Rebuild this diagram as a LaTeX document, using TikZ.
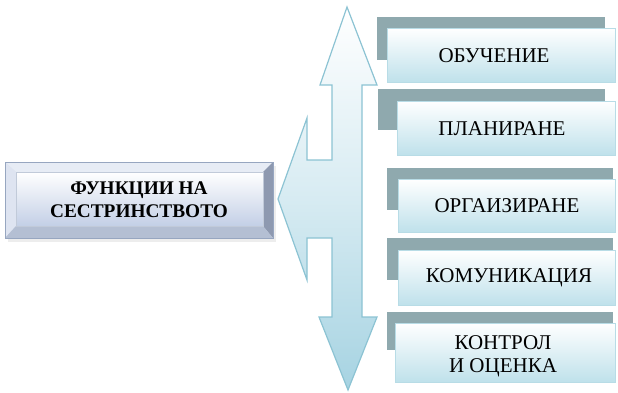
\documentclass[tikz,border=0pt]{standalone}
\usepackage{fontspec}
\setmainfont{Liberation Serif}
\definecolor{arrowline}{HTML}{8CC3D3}
\definecolor{arrowfill}{HTML}{A6D3E2}
\definecolor{shadowc}{HTML}{8FA9AE}
\definecolor{boxline}{HTML}{B8DCE6}
\definecolor{boxbot}{HTML}{BFE1EB}
\definecolor{facebot}{HTML}{C3CFE6}
\definecolor{bevline}{HTML}{97A6C0}
\definecolor{bevright}{HTML}{8E99B0}
\definecolor{bevbottom}{HTML}{B4BFD3}
\begin{document}
\begin{tikzpicture}[x=1pt,y=-1pt,
  backshadow/.style={fill=shadowc,draw=none},
  frontbox/.style={draw=boxline,line width=0.8pt,top color=white,bottom color=boxbot},
  label/.style={font=\fontsize{21}{23}\selectfont,align=center,inner sep=0pt},
  mainlabel/.style={font=\fontsize{19.3}{23}\selectfont\bfseries,align=center,inner sep=0pt}]
\useasboundingbox (0,0) rectangle (618,392);
% three-headed arrow
\draw[arrowline,line width=1.2pt,line join=miter,top color=white,bottom color=arrowfill,middle color=arrowfill!45]
  (347,7) -- (377,85) -- (362,85) -- (362,317) -- (377,317) -- (348,390) -- (319,317) -- (332,317)
  -- (332,238) -- (307,238) -- (307,280) -- (278,199) -- (307,118) -- (307,160) -- (332,160)
  -- (332,85) -- (320,85) -- cycle;
\node[inner sep=0pt] (arrowtip) at (278,199) {};
% left beveled box
\fill[black!7] (8,166) rectangle (276,242);
\draw[bevline,line width=0.8pt,fill=facebot!70] (5,162) rectangle (273,238);
\fill[white!60!facebot] (5,162) -- (273,162) -- (263,172) -- (16,172) -- cycle;
\fill[white!45!facebot] (5,162) -- (16,172) -- (16,226) -- (5,238) -- cycle;
\fill[bevright] (273,162) -- (273,238) -- (263,226) -- (263,172) -- cycle;
\fill[bevbottom] (5,238) -- (16,226) -- (263,226) -- (273,238) -- cycle;
\draw[bevline,line width=0.8pt] (5,162) rectangle (273,238);
\shade[top color=white,bottom color=facebot] (16,172) rectangle (263,226);
\draw[bevline!60,line width=0.5pt] (16,172) rectangle (263,226);
\node[mainlabel] (main) at (139,200) {ФУНКЦИИ НА\\СЕСТРИНСТВОТО};
% right boxes
\fill[backshadow] (377,17) rectangle (605,60);
\draw[frontbox] (387,28) rectangle (615,82);
\node[label] (b1) at (494,56) {ОБУЧЕНИЕ};
\fill[backshadow] (378,89) rectangle (605,130);
\draw[frontbox] (397,101) rectangle (615,155);
\node[label] (b2) at (502,129) {ПЛАНИРАНЕ};
\fill[backshadow] (387,168) rectangle (613,210);
\draw[frontbox] (398,179) rectangle (615,232);
\node[label] (b3) at (507,206) {ОРГАИЗИРАНЕ};
\fill[backshadow] (387,238) rectangle (613,280);
\draw[frontbox] (398,250) rectangle (615,305);
\node[label] (b4) at (509,278) {КОМУНИКАЦИЯ};
\fill[backshadow] (387,312) rectangle (613,350);
\draw[frontbox] (395,323) rectangle (615,382);
\node[label] (b5) at (503,356) {КОНТРОЛ\\И ОЦЕНКА};
\end{tikzpicture}
\end{document}
